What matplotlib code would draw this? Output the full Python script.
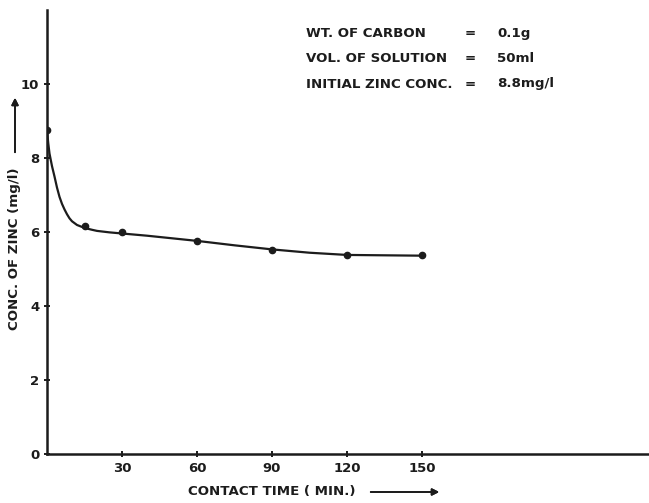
"""
Zinc removal by carbon: residual concentration vs contact time.
Redrawn from a scanned figure.
"""

import matplotlib

matplotlib.use("Agg")
import matplotlib.pyplot as plt

# measured points (min, mg/l)
contact_time = [0, 15, 30, 60, 90, 120, 150]
zinc_conc = [8.75, 6.15, 6.0, 5.75, 5.52, 5.38, 5.38]

# hand-drawn smooth curve
curve_time = [0, 0.5, 1, 2, 3, 4, 5, 6, 7, 8, 9, 10, 12, 15, 18, 20, 25, 30,
              40, 50, 60, 75, 90, 105, 120, 135, 150]
curve_conc = [8.75, 8.4, 8.12, 7.78, 7.5, 7.2, 6.95, 6.76, 6.61, 6.48, 6.37,
              6.29, 6.19, 6.11, 6.06, 6.03, 5.99, 5.96, 5.9, 5.83, 5.76, 5.64,
              5.53, 5.44, 5.38, 5.37, 5.36]

x_ticks = [30, 60, 90, 120, 150]
y_ticks = [0, 2, 4, 6, 8, 10]

conditions = [
    ("WT. OF CARBON", "=", "0.1g"),
    ("VOL. OF SOLUTION", "=", "50ml"),
    ("INITIAL ZINC CONC.", "=", "8.8mg/l"),
]

INK = "#1c1c1c"
W, H = 649, 503
TXT = 9.6

plt.rcParams["font.family"] = ["DejaVu Sans"]

fig = plt.figure(figsize=(W / 100, H / 100), dpi=100)
ax = fig.add_axes([47 / W, 1 - 454 / H, 1 - 47 / W, (454 - 10) / H])

ax.plot(curve_time, curve_conc, color=INK, linewidth=1.6, zorder=3,
        solid_joinstyle="round")
ax.plot(contact_time, zinc_conc, "o", color=INK, markersize=4.5, zorder=4)

ax.set_xlim(0, 240.8)
ax.set_ylim(0, 12.0)
ax.set_xticks(x_ticks)
ax.set_yticks(y_ticks)
ax.tick_params(axis="both", colors=INK, labelsize=9.5, width=1.4, length=4,
               direction="inout")
for lbl in ax.get_xticklabels() + ax.get_yticklabels():
    lbl.set_fontweight("bold")

for side in ("top", "right"):
    ax.spines[side].set_visible(False)
for side in ("left", "bottom"):
    ax.spines[side].set_linewidth(1.8)
    ax.spines[side].set_color(INK)


def px(x, y):
    # pixel coords of the original scan -> figure fraction
    return x / W, 1 - y / H


# experimental conditions block
for i, (name, eq, val) in enumerate(conditions):
    y = 33 + i * 25.5
    fig.text(*px(306, y), name, fontsize=TXT, fontweight="bold", color=INK,
             va="center", ha="left")
    fig.text(*px(470, y), eq, fontsize=TXT, fontweight="bold", color=INK,
             va="center", ha="center")
    fig.text(*px(497, y), val, fontsize=TXT, fontweight="bold", color=INK,
             va="center", ha="left")

# axis titles with the hand-drawn arrows
fig.text(*px(15, 249), "CONC. OF ZINC (mg/l)", rotation=90, fontsize=TXT,
         fontweight="bold", color=INK, ha="center", va="center")
fig.add_artist(
    plt.annotate("", xy=px(15, 95), xytext=px(15, 155), xycoords="figure fraction",
                 textcoords="figure fraction",
                 arrowprops=dict(arrowstyle="-|>", color=INK, lw=1.3,
                                 mutation_scale=10))
)
fig.text(*px(272, 492), "CONTACT TIME ( MIN.)", fontsize=TXT, fontweight="bold",
         color=INK, ha="center", va="center")
fig.add_artist(
    plt.annotate("", xy=px(442, 492), xytext=px(368, 492),
                 xycoords="figure fraction", textcoords="figure fraction",
                 arrowprops=dict(arrowstyle="-|>", color=INK, lw=1.3,
                                 mutation_scale=10))
)

fig.savefig("out.png", dpi=100)
